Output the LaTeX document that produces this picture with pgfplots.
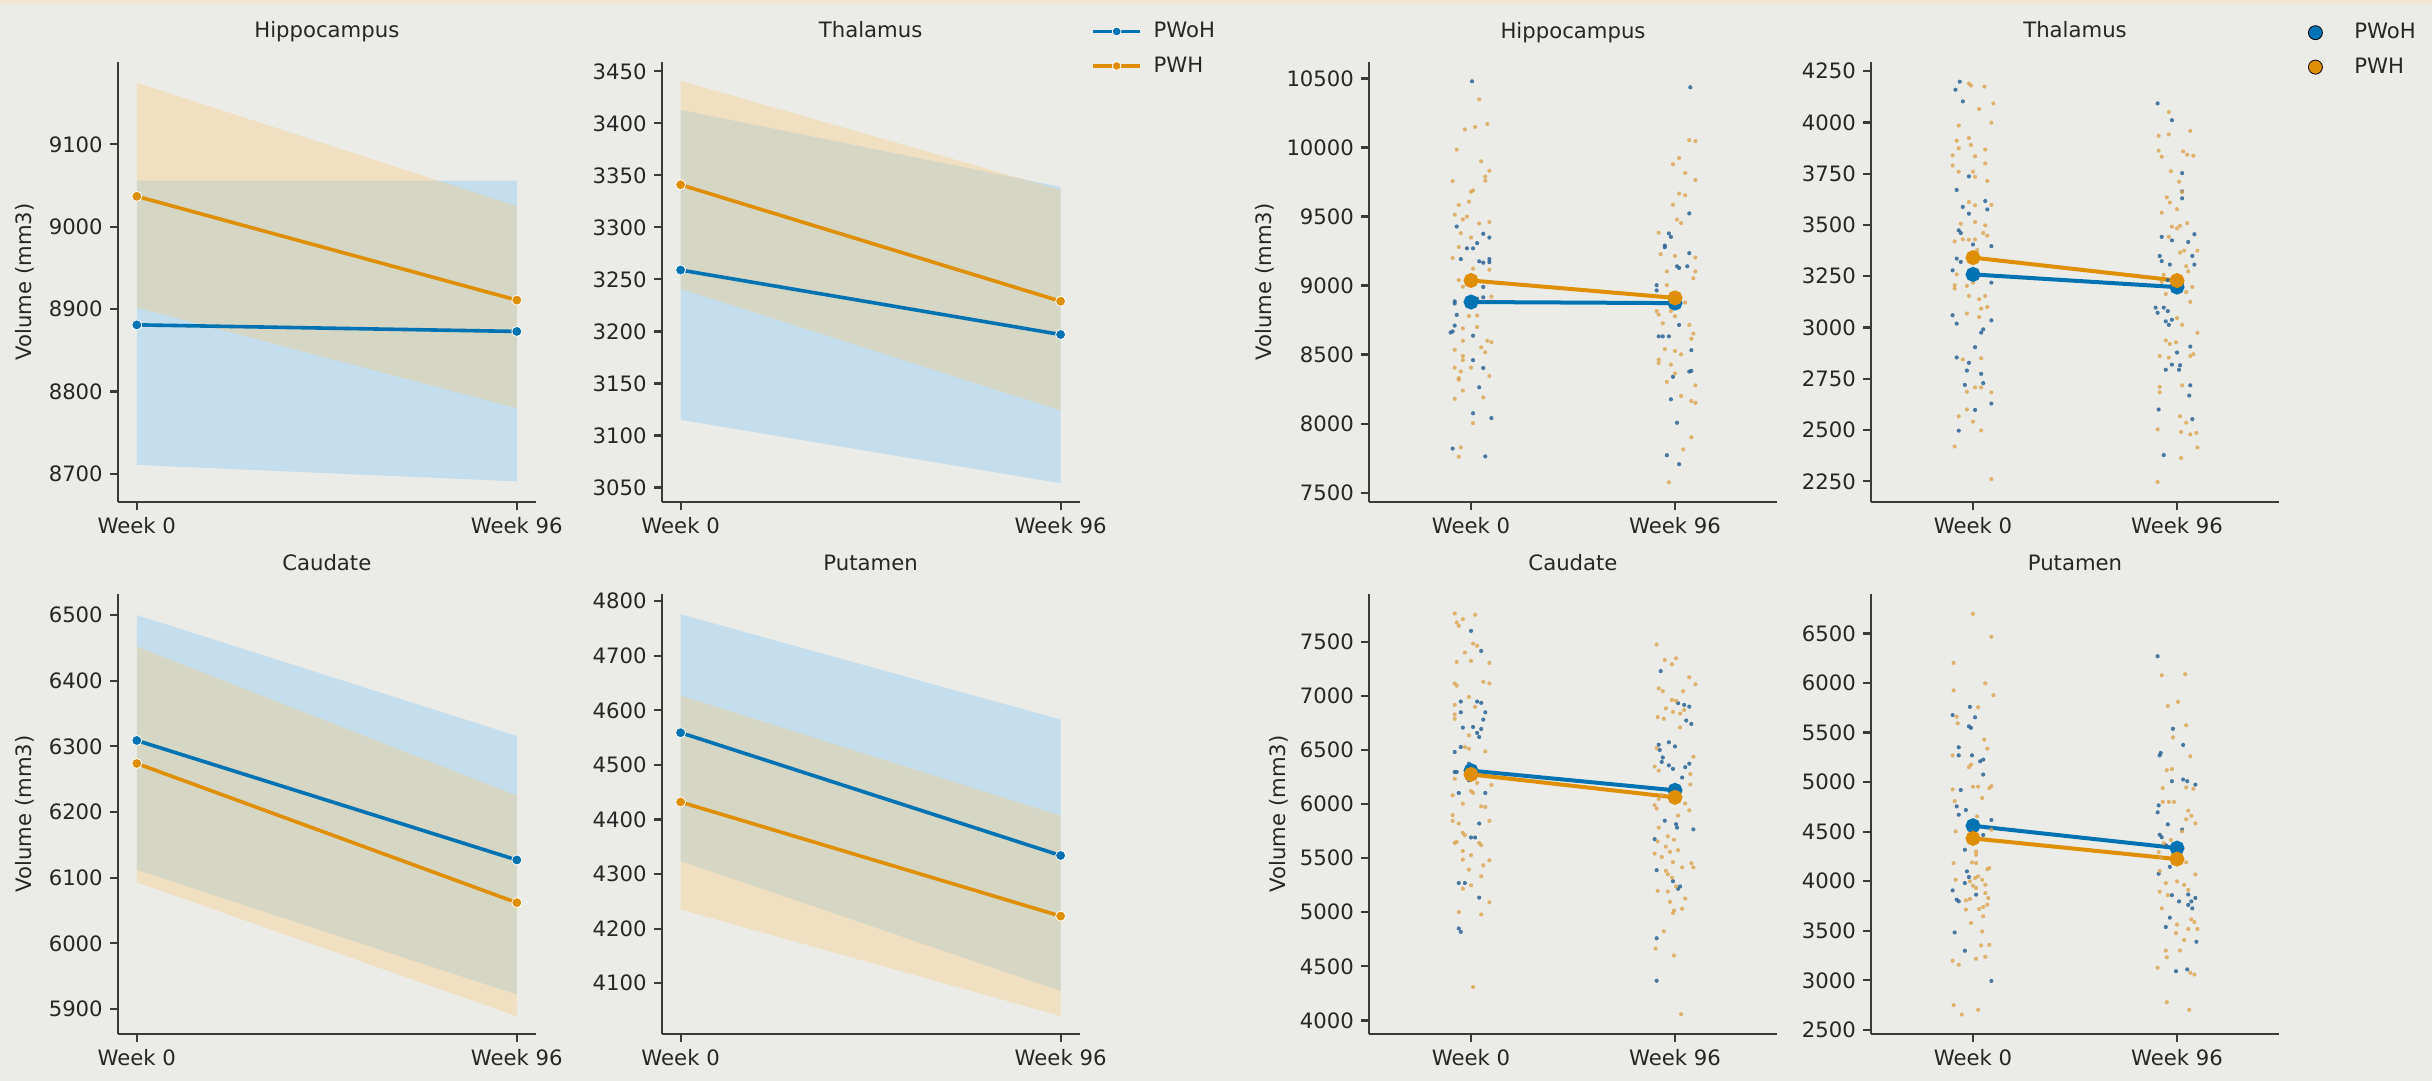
\documentclass[border=0pt]{standalone}
\usepackage{pgfplots}
\pgfplotsset{compat=1.18}
\usepackage{fontspec}
\setmainfont{DejaVu Sans}
\definecolor{bg}{HTML}{EBECE8}
\definecolor{cB}{HTML}{0173B2}
\definecolor{cO}{HTML}{DE8F05}
\definecolor{bandB}{HTML}{6EBEFA}
\definecolor{bandO}{HTML}{FFC46A}
\definecolor{axc}{HTML}{3A3A3A}
\definecolor{txt}{HTML}{262626}
\definecolor{ptB}{HTML}{2A6496}
\definecolor{ptO}{HTML}{DDA550}
\definecolor{edge}{HTML}{F5E6D3}
\newcommand{\fs}{\fontsize{10.6}{12.7}\selectfont}
\pgfplotsset{
  base/.style={
    scale only axis, anchor=south west, height=220pt,
    axis x line*=bottom, axis y line*=left,
    axis line style={axc, line width=1.1pt},
    tick align=outside, major tick length=4pt,
    tick style={axc, line width=1.1pt},
    xtick={0,1}, xticklabels={Week 0, Week 96},
    tick label style={font=\fs, text=txt},
    /pgf/number format/assume math mode=true,
    /pgf/number format/1000 sep={},
    scaled y ticks=false,
    title style={font=\fs, text=txt, anchor=base, at={(axis description cs:0.5,1)}, yshift=6pt},
    label style={font=\fs, text=txt},
  },
  lft/.style={base, width=209pt, xmin=-0.05, xmax=1.05},
  rgt/.style={base, width=204pt, xmin=-0.5, xmax=1.5},
  bandBs/.style={draw=none, fill=bandB, fill opacity=0.3, forget plot},
  bandOs/.style={draw=none, fill=bandO, fill opacity=0.3, forget plot},
  lineB/.style={cB, line width=1.8pt, mark=*, mark size=2.5pt, mark options={fill=cB, draw=white, line width=0.4pt}, forget plot},
  lineO/.style={cO, line width=1.8pt, mark=*, mark size=2.5pt, mark options={fill=cO, draw=white, line width=0.4pt}, forget plot},
  sB/.style={only marks, mark=*, ptB, mark size=1.05pt, mark options={fill opacity=0.85, draw opacity=0}, forget plot},
  sO/.style={only marks, mark=*, ptO, mark size=1.05pt, mark options={fill opacity=0.8, draw opacity=0}, forget plot},
  mB/.style={cB, line width=2pt, mark=*, mark size=2.7pt, mark options={fill=cB, draw=cB}, forget plot},
  mO/.style={cO, line width=2pt, mark=*, mark size=2.7pt, mark options={fill=cO, draw=cO}, forget plot},
}
\begin{document}
\begin{tikzpicture}
\fill[bg] (0,0) rectangle (1216pt,-540.5pt);
\useasboundingbox (0,0) rectangle (1216pt,-540.5pt);
\fill[edge] (0,0) rectangle (1216pt,-2pt);

% ---------------- Left: Hippocampus
\begin{axis}[lft, at={(58.9pt,-251pt)}, ymin=8666, ymax=9200,
  ytick={8700,8800,8900,9000,9100}, title={Hippocampus}, ylabel={Volume (mm3)},
  ylabel style={at={(axis description cs:-0.222,0.5)}, anchor=center}]
\addplot[bandBs] coordinates {(0,8711) (1,8691) (1,9056) (0,9056)};
\addplot[bandOs] coordinates {(0,8902) (1,8780) (1,9025) (0,9175)};
\addplot[lineB] coordinates {(0,8881) (1,8873)};
\addplot[lineO] coordinates {(0,9037) (1,8911)};
\end{axis}

% ---------------- Left: Thalamus
\begin{axis}[lft, at={(330.8pt,-251pt)}, ymin=3036, ymax=3459,
  ytick={3050,3100,3150,3200,3250,3300,3350,3400,3450}, title={Thalamus},
  legend style={draw=none, fill=none, at={(axis description cs:1.028,1.0302)}, anchor=west,
    inner sep=0pt, column sep=6pt, row sep=8pt, font=\fs, text=txt, nodes={inner sep=0pt}},
  legend cell align=left,
  legend image code/.code={\draw[mark repeat=2,mark phase=2,#1] plot coordinates {(0cm,0cm) (0.41cm,0cm) (0.82cm,0cm)};}]
\addlegendimage{cB, line width=1.6pt, mark=*, mark size=2.2pt, mark options={fill=cB, draw=white, line width=0.4pt}}
\addlegendentry{PWoH}
\addlegendimage{cO, line width=1.6pt, mark=*, mark size=2.2pt, mark options={fill=cO, draw=white, line width=0.4pt}}
\addlegendentry{PWH}
\addplot[bandBs] coordinates {(0,3115) (1,3054) (1,3339) (0,3413)};
\addplot[bandOs] coordinates {(0,3241) (1,3124) (1,3336) (0,3441)};
\addplot[lineB] coordinates {(0,3259) (1,3197)};
\addplot[lineO] coordinates {(0,3341) (1,3229)};
\end{axis}

% ---------------- Left: Caudate
\begin{axis}[lft, at={(58.9pt,-517pt)}, ymin=5862, ymax=6532,
  ytick={5900,6000,6100,6200,6300,6400,6500}, title={Caudate}, ylabel={Volume (mm3)},
  ylabel style={at={(axis description cs:-0.222,0.5)}, anchor=center}]
\addplot[bandBs] coordinates {(0,6112) (1,5922) (1,6316) (0,6500)};
\addplot[bandOs] coordinates {(0,6093) (1,5889) (1,6225) (0,6452)};
\addplot[lineB] coordinates {(0,6309) (1,6127)};
\addplot[lineO] coordinates {(0,6274) (1,6062)};
\end{axis}

% ---------------- Left: Putamen
\begin{axis}[lft, at={(330.8pt,-517pt)}, ymin=4007, ymax=4813,
  ytick={4100,4200,4300,4400,4500,4600,4700,4800}, title={Putamen}]
\addplot[bandBs] coordinates {(0,4324) (1,4086) (1,4583) (0,4776)};
\addplot[bandOs] coordinates {(0,4235) (1,4040) (1,4407) (0,4627)};
\addplot[lineB] coordinates {(0,4559) (1,4334)};
\addplot[lineO] coordinates {(0,4432) (1,4223)};
\end{axis}

% ---------------- Right: Hippocampus
\begin{axis}[rgt, at={(684.5pt,-251pt)}, ymin=7432, ymax=10620,
  ytick={7500,8000,8500,9000,9500,10000,10500}, title={Hippocampus}, ylabel={Volume (mm3)},
  ylabel style={at={(axis description cs:-0.255,0.5)}, anchor=center}]
\addplot[sB] table[x expr=\thisrow{j}, y=v] {
j v
0.005 10480
-0.07 9428
0.06 9375
0.09 9348
0.03 9308
-0.02 9270
0.01 9270
-0.05 9192
0.09 9192
0.09 9170
0.04 9176
0.06 9166
0.06 8990
-0.08 8886
-0.08 8870
-0.02 8880
0.00 8860
0.03 8905
0.06 8915
-0.07 8788
-0.08 8710
-0.09 8668
-0.10 8660
0.01 8637
0.01 8460
0.06 8403
0.04 8263
0.01 8075
0.10 8040
-0.09 7819
0.07 7762
};
\addplot[sO] table[x expr=\thisrow{j}, y=v] {
j v
0.04 10349
-0.03 10131
0.02 10150
0.08 10172
-0.07 9985
0.05 9900
0.09 9832
-0.09 9757
0.07 9790
0.07 9760
0.00 9680
0.01 9690
-0.01 9608
-0.06 9584
-0.08 9514
-0.04 9480
-0.02 9500
0.04 9450
0.09 9460
-0.05 9380
0.00 9348
-0.06 9280
-0.09 9200
0.01 9123
0.09 9115
-0.06 9040
-0.04 8992
0.10 8920
-0.01 8780
0.03 8783
-0.04 8690
0.03 8700
-0.04 8600
0.08 8600
0.10 8590
0.05 8552
0.07 8517
-0.08 8535
-0.04 8490
-0.04 8460
-0.08 8405
-0.05 8378
0.00 8405
0.09 8345
-0.06 8330
-0.06 8318
-0.04 8240
-0.08 8180
0.06 8190
0.01 8003
-0.05 7828
-0.06 7760
};
\addplot[sB] table[x expr=\thisrow{j}+1, y=v] {
j v
0.075 10437
0.07 9523
-0.03 9378
-0.02 9353
-0.05 9278
-0.05 9290
0.07 9235
0.01 9140
0.02 9128
0.06 9140
-0.09 9003
-0.09 8965
0.00 8915
0.02 8878
0.02 8715
-0.08 8632
-0.06 8632
-0.03 8632
0.08 8532
0.07 8377
0.08 8382
-0.01 8339
-0.02 8176
0.01 8006
-0.04 7771
0.02 7706
};
\addplot[sO] table[x expr=\thisrow{j}+1, y=v] {
j v
0.07 10054
0.10 10047
0.02 9924
-0.01 9879
0.05 9816
0.10 9766
0.02 9666
0.05 9654
-0.01 9586
0.01 9478
0.03 9453
-0.08 9383
-0.07 9228
0.00 9215
0.10 9203
0.10 9103
-0.04 9103
-0.04 9003
0.09 9053
0.05 8878
-0.09 8815
-0.08 8790
-0.02 8815
0.00 8778
-0.06 8727
0.07 8715
0.09 8652
0.08 8615
-0.05 8540
0.00 8527
0.03 8502
-0.08 8464
-0.08 8439
-0.02 8427
0.00 8364
-0.04 8302
0.10 8277
0.03 8201
0.08 8164
0.10 8151
0.08 7901
0.04 7813
-0.03 7575
};
\addplot[mB] coordinates {(0,8881) (1,8873)};
\addplot[mO] coordinates {(0,9037) (1,8911)};
\end{axis}

% ---------------- Right: Thalamus
\begin{axis}[rgt, at={(935.5pt,-251pt)}, ymin=2149, ymax=4295,
  ytick={2250,2500,2750,3000,3250,3500,3750,4000,4250}, title={Thalamus},
  legend style={draw=none, fill=none, at={(axis description cs:1.0711,1.0275)}, anchor=west,
    inner sep=0pt, column sep=16pt, row sep=8pt, font=\fs, text=txt, nodes={inner sep=0pt}},
  legend cell align=left,
  legend image code/.code={\draw[#1] plot coordinates {(0cm,0cm)};}]
\addlegendimage{only marks, mark=*, mark size=3.5pt, mark options={fill=cB, draw=none}}
\addlegendentry{PWoH}
\addlegendimage{only marks, mark=*, mark size=3.5pt, mark options={fill=cO, draw=none}}
\addlegendentry{PWH}
\addplot[sB] table[x expr=\thisrow{j}, y=v] {
j v
-0.065 4199
-0.086 4160
-0.05 4103
-0.02 3737
-0.08 3671
0.06 3617
0.07 3576
-0.05 3588
-0.02 3555
-0.07 3474
-0.06 3461
0.00 3405
0.09 3397
-0.08 3336
-0.06 3320
-0.10 3279
0.09 3219
-0.10 3060
-0.08 3019
0.09 3035
0.05 2991
0.04 2975
0.01 2904
-0.08 2854
-0.02 2828
-0.03 2790
0.04 2774
-0.04 2720
0.05 2729
0.09 2629
0.01 2598
-0.07 2497
};
\addplot[sO] table[x expr=\thisrow{j}, y=v] {
j v
-0.02 4190
-0.01 4180
0.056 4175
0.10 4093
0.03 4066
0.09 3999
-0.07 3985
-0.08 3911
-0.02 3924
-0.07 3874
-0.01 3890
0.06 3868
-0.10 3840
0.01 3835
0.06 3800
-0.10 3790
-0.07 3760
0.00 3760
0.01 3735
0.07 3715
-0.02 3612
0.01 3596
0.09 3598
-0.06 3506
0.01 3514
0.06 3498
-0.09 3420
-0.05 3430
-0.02 3428
0.01 3430
0.05 3461
0.07 3448
0.02 3378
-0.02 3336
-0.08 3259
-0.09 3206
-0.09 3190
-0.03 3203
0.00 3219
-0.02 3154
0.06 3154
0.03 3138
0.07 3100
0.04 3092
-0.03 3068
0.03 3051
-0.05 2844
0.04 2850
-0.03 2687
0.01 2708
0.04 2708
0.09 2684
-0.03 2600
0.00 2541
0.04 2498
-0.07 2567
-0.09 2420
0.09 2261
};
\addplot[sB] table[x expr=\thisrow{j}+1, y=v] {
j v
-0.095 4093
-0.025 4011
0.025 3753
0.025 3664
0.025 3630
0.085 3455
-0.075 3442
-0.025 3425
0.055 3417
-0.085 3349
-0.075 3324
0.075 3349
-0.035 3307
0.085 3307
-0.045 3231
-0.025 3206
0.025 3215
-0.005 3189
-0.105 3097
-0.065 3097
-0.045 3080
-0.095 3072
-0.055 3030
-0.04 3013
-0.025 3038
0.065 2907
0.00 2878
-0.055 2794
-0.025 2819
0.01 2794
0.015 2816
0.065 2718
0.06 2668
-0.09 2600
0.075 2553
-0.065 2378
};
\addplot[sO] table[x expr=\thisrow{j}+1, y=v] {
j v
-0.04 4051
0.065 3959
-0.09 3935
-0.04 3942
-0.09 3863
-0.075 3833
0.03 3859
0.05 3843
0.08 3838
-0.03 3762
0.01 3711
0.025 3661
-0.05 3635
-0.035 3610
-0.075 3560
0.00 3577
0.05 3509
-0.025 3492
0.00 3484
0.015 3496
-0.04 3442
0.015 3366
0.035 3375
0.10 3375
0.045 3299
-0.065 3257
-0.075 3223
0.055 3274
0.075 3198
0.045 3173
-0.055 3164
0.065 3125
0.00 3046
0.025 3013
0.10 2974
-0.055 2937
-0.035 2920
-0.005 2928
0.065 2861
0.08 2870
-0.085 2861
-0.04 2853
-0.085 2710
-0.085 2684
0.025 2718
0.015 2567
0.045 2536
-0.095 2503
0.02 2491
0.065 2479
0.095 2486
0.02 2364
0.10 2415
-0.095 2247
};
\addplot[mB] coordinates {(0,3259) (1,3197)};
\addplot[mO] coordinates {(0,3341) (1,3229)};
\end{axis}

% ---------------- Right: Caudate
\begin{axis}[rgt, at={(684.5pt,-517pt)}, ymin=3875, ymax=7941,
  ytick={4000,4500,5000,5500,6000,6500,7000,7500}, title={Caudate}, ylabel={Volume (mm3)},
  ylabel style={at={(axis description cs:-0.2206,0.5)}, anchor=center}]
\addplot[sB] table[x expr=\thisrow{j}, y=v] {
j v
0.00 7600
0.05 7415
-0.05 6947
0.03 6947
0.05 6935
-0.05 6848
0.07 6848
0.06 6780
-0.04 6706
0.01 6712
0.03 6657
0.04 6620
0.05 6694
-0.05 6527
-0.08 6481
-0.01 6373
-0.08 6296
-0.07 6296
-0.01 6219
-0.06 6102
0.07 6102
0.04 5820
0.00 5691
0.02 5691
-0.06 5270
-0.03 5270
0.04 5135
-0.06 4850
-0.05 4819
};
\addplot[sO] table[x expr=\thisrow{j}, y=v] {
j v
-0.08 7761
-0.07 7678
-0.04 7709
-0.06 7647
0.02 7749
0.01 7483
0.03 7462
-0.03 7400
-0.07 7314
0.00 7323
0.09 7305
-0.08 7115
-0.07 7094
0.06 7130
0.09 7115
-0.01 6990
-0.08 6916
0.02 6898
-0.08 6828
-0.08 6788
-0.01 6635
-0.01 6512
-0.03 6527
0.07 6487
-0.08 6234
0.03 6195
0.10 6176
0.00 6121
0.01 6102
-0.09 6081
-0.04 6004
0.05 5979
0.07 5973
-0.09 5897
-0.09 5845
-0.06 5820
0.09 5845
-0.04 5734
-0.03 5712
-0.08 5641
-0.07 5650
0.04 5641
0.05 5620
-0.04 5567
0.00 5527
-0.04 5487
0.06 5434
0.09 5480
-0.01 5394
0.05 5332
-0.04 5218
0.00 5249
0.09 5092
-0.06 5002
0.05 4980
0.01 4310
};
\addplot[sB] table[x expr=\thisrow{j}+1, y=v] {
j v
-0.07 7229
0.015 6932
0.045 6916
0.07 6900
0.055 6772
0.08 6740
-0.08 6548
-0.075 6500
-0.03 6571
0.00 6532
-0.06 6430
-0.065 6389
-0.03 6357
-0.01 6325
0.05 6341
0.07 6373
0.035 6245
-0.015 6037
0.015 6069
-0.05 5846
0.005 5814
0.01 5782
0.09 5766
-0.10 5676
-0.09 5389
-0.01 5287
0.025 5239
0.015 5217
-0.09 4760
-0.09 4367
};
\addplot[sO] table[x expr=\thisrow{j}+1, y=v] {
j v
-0.09 7474
-0.05 7331
-0.015 7292
0.005 7347
0.07 7171
0.10 7107
-0.08 7069
-0.06 7043
0.04 7043
-0.015 6963
0.005 6954
-0.045 6884
-0.01 6852
0.045 6868
0.025 6836
-0.085 6804
-0.055 6788
0.025 6708
-0.09 6516
0.09 6437
-0.10 6347
-0.08 6309
0.075 6277
0.075 6181
-0.065 6085
-0.08 6047
0.05 6005
0.07 5942
-0.10 5990
-0.09 5958
0.015 5894
-0.08 5782
-0.035 5702
-0.085 5654
-0.005 5670
-0.045 5606
-0.025 5558
0.015 5574
-0.10 5542
-0.065 5510
-0.01 5463
0.08 5453
0.09 5415
0.035 5415
-0.045 5383
-0.035 5351
-0.015 5319
0.005 5239
-0.035 5191
-0.085 5198
0.05 5127
-0.025 5096
-0.005 5016
-0.01 4993
0.035 5032
-0.055 4824
-0.095 4664
-0.005 4600
0.03 4058
};
\addplot[mB] coordinates {(0,6309) (1,6127)};
\addplot[mO] coordinates {(0,6274) (1,6062)};
\end{axis}

% ---------------- Right: Putamen
\begin{axis}[rgt, at={(935.5pt,-517pt)}, ymin=2458, ymax=6898,
  ytick={2500,3000,3500,4000,4500,5000,5500,6000,6500}, title={Putamen}]
\addplot[sB] table[x expr=\thisrow{j}, y=v] {
j v
-0.015 5759
0.01 5654
-0.10 5676
-0.02 5563
-0.01 5547
-0.07 5351
-0.07 5270
-0.005 5270
0.035 5210
0.05 5227
0.05 5076
-0.06 4920
-0.08 4755
-0.07 4671
-0.035 4718
0.00 4577
0.02 4564
0.09 4617
0.05 4466
-0.04 4317
-0.03 4099
-0.02 4042
-0.04 3981
-0.10 3907
0.015 3864
-0.08 3814
-0.07 3797
-0.09 3483
-0.04 3298
0.09 2994
};
\addplot[sO] table[x expr=\thisrow{j}, y=v] {
j v
0.00 6698
0.09 6466
-0.095 6203
0.06 5997
-0.095 5926
0.10 5876
0.025 5756
-0.08 5660
-0.075 5593
0.055 5429
0.07 5338
-0.10 5270
-0.02 5150
-0.01 5176
0.00 4954
0.025 4954
0.045 4839
0.09 4960
0.08 4940
-0.10 4926
-0.09 4808
0.02 4654
-0.085 4503
0.09 4520
0.015 4300
0.015 4267
-0.095 4183
-0.005 4190
0.015 4183
0.07 4122
0.08 4133
-0.085 4015
0.01 4032
0.045 4015
-0.015 3998
0.025 4049
0.06 3964
0.00 3955
0.015 3931
0.06 3880
0.075 3830
0.07 3763
0.05 3740
-0.035 3807
-0.015 3820
0.03 3720
-0.035 3713
0.05 3646
-0.01 3579
0.045 3493
0.04 3352
0.08 3358
-0.10 3197
-0.07 3157
0.015 3217
0.06 3237
-0.095 2749
0.025 2702
-0.055 2655
};
\addplot[sB] table[x expr=\thisrow{j}+1, y=v] {
j v
-0.095 6270
-0.02 5538
0.03 5375
-0.08 5294
-0.085 5270
-0.025 5009
0.03 5026
0.05 5009
0.09 4974
-0.09 4765
-0.095 4695
-0.045 4573
-0.085 4469
-0.075 4444
0.025 4521
-0.055 4364
-0.01 4329
-0.09 4075
-0.035 4145
-0.025 3859
0.01 3796
0.09 3831
0.055 3866
0.07 3796
0.055 3761
0.075 3726
-0.035 3632
-0.055 3538
0.095 3389
-0.005 3092
0.05 3110
};
\addplot[sO] table[x expr=\thisrow{j}+1, y=v] {
j v
-0.075 6078
0.04 6089
-0.045 5768
0.005 5810
0.045 5573
-0.02 5451
0.065 5260
-0.05 5120
-0.025 5131
-0.07 4939
0.045 4946
0.08 4932
-0.07 4800
-0.04 4800
-0.015 4800
0.055 4712
0.07 4660
0.045 4625
0.09 4584
0.025 4503
-0.065 4382
-0.03 4416
-0.09 4294
-0.08 4242
0.045 4190
-0.085 4103
0.09 4068
-0.055 3981
0.00 3998
0.035 3963
0.055 3911
-0.085 3894
-0.045 3859
-0.075 3726
0.07 3615
0.085 3587
0.00 3563
0.055 3517
0.10 3517
-0.005 3476
0.035 3406
-0.055 3301
-0.05 3232
0.015 3301
-0.095 3127
0.065 3075
0.085 3058
-0.05 2779
0.06 2702
};
\addplot[mB] coordinates {(0,4559) (1,4334)};
\addplot[mO] coordinates {(0,4432) (1,4223)};
\end{axis}
\end{tikzpicture}
\end{document}
